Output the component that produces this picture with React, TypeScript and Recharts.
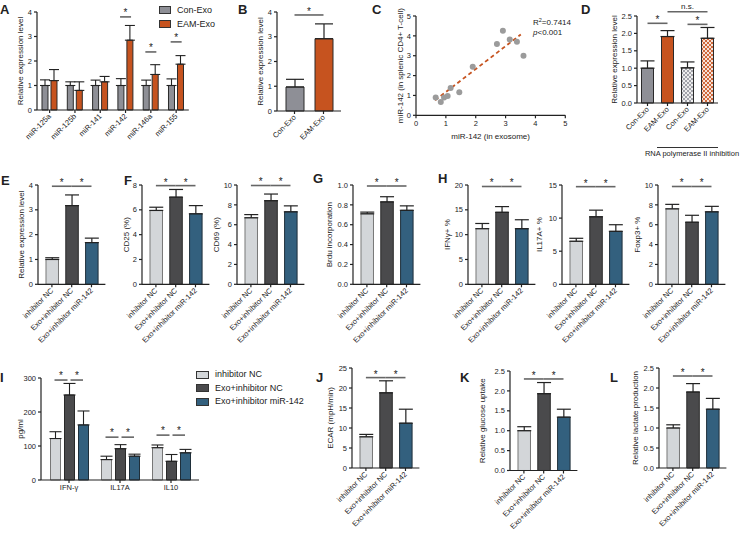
import React from 'react';
import {
  BarChart, ComposedChart, ScatterChart, Bar, Scatter, XAxis, YAxis, Cell,
  ErrorBar, ReferenceLine, Legend,
} from 'recharts';

const FONT = "'Liberation Sans', Arial, Helvetica, sans-serif";
const INK = '#222';
const SIG = '#666';
const C_CON = '#8e8f96';
const C_EAM = '#c6531f';
const C_LIGHT = '#d3d6d9';
const C_DARK = '#4a4a4c';
const C_BLUE = '#33607e';
const AX = { stroke: '#222', strokeWidth: 1.2 };

// ---------- Panel A ----------
const aCats = ['miR-125a', 'miR-125b', 'miR-141', 'miR-142', 'miR-146a', 'miR-155'];
const aCon = [1.0, 1.0, 1.0, 1.0, 1.0, 1.0];
const aConErr = [0.23, 0.15, 0.22, 0.28, 0.22, 0.27];
const aEam = [1.2, 0.8, 1.15, 2.85, 1.45, 1.87];
const aEamErr = [0.45, 0.35, 0.22, 0.6, 0.4, 0.35];
const aSig: (number | null)[] = [null, null, null, 3.8, 2.37, 2.78];
const aSeries = ['Con-Exo', 'EAM-Exo'];

// ---------- Panel B ----------
const bCats = ['Con-Exo', 'EAM-Exo'];
const bVals = [0.97, 2.92];
const bErr = [0.31, 0.6];

// ---------- Panel C ----------
const cX = [0.66, 0.83, 0.94, 1.06, 1.16, 1.45, 1.9, 2.71, 2.91, 3.14, 3.38, 3.6];
const cY = [0.89, 0.67, 0.89, 0.97, 1.38, 1.16, 2.44, 3.59, 4.26, 3.82, 3.7, 3.0];
const cFitX = [0.64, 3.51];
const cFitY = [0.76, 4.07];

// ---------- Panel D ----------
const dCats = ['Con-Exo', 'EAM-Exo', 'Con-Exo', 'EAM-Exo'];
const dVals = [1.0, 1.91, 1.01, 1.86];
const dErr = [0.21, 0.17, 0.17, 0.31];

// ---------- Three-group panels ----------
const grp = ['inhibitor NC', 'Exo+inhibitor NC', 'Exo+inhibitor miR-142'];
const eVals = [1.0, 3.17, 1.68];
const eErr = [0.07, 0.43, 0.18];
const cd25Vals = [5.95, 7.02, 5.68];
const cd25Err = [0.26, 0.62, 0.66];
const cd69Vals = [6.7, 8.42, 7.3];
const cd69Err = [0.32, 0.67, 0.6];
const brduVals = [0.71, 0.83, 0.745];
const brduErr = [0.017, 0.052, 0.045];
const ifnVals = [11.2, 14.5, 11.2];
const ifnErr = [1.05, 1.15, 1.8];
const il17Vals = [6.5, 10.2, 8.0];
const il17Err = [0.45, 1.0, 1.0];
const foxVals = [7.6, 6.25, 7.3];
const foxErr = [0.45, 0.7, 0.55];
const ecarVals = [7.8, 18.8, 11.2];
const ecarErr = [0.6, 3.0, 3.5];
const gluVals = [1.0, 1.93, 1.34];
const gluErr = [0.1, 0.28, 0.2];
const lacVals = [1.0, 1.9, 1.47];
const lacErr = [0.08, 0.21, 0.27];

// ---------- Panel I ----------
const iCats = ['IFN-γ', 'IL17A', 'IL10'];
const iNC = [122, 60, 95];
const iNCErr = [20, 10, 8];
const iExo = [250, 92, 55];
const iExoErr = [34, 12, 20];
const iMiR = [162, 70, 80];
const iMiRErr = [41, 6, 10];
const iSig = [294, 126, 132];

const fills3 = [C_LIGHT, C_DARK, C_BLUE];
const strokes3 = ['#777', '#2a2a2a', '#1f2f3a'];
const f1 = (v: number) => v.toFixed(1);

type Sig = { a: number; b: number; y: number; t: string };

const RotTick = (props: any) => {
  const { x, y, payload, names, fs } = props;
  const label = names ? names[Number(payload.value)] : payload.value;
  return (
    <g transform={`translate(${x},${y}) rotate(-45)`}>
      <text x={0} y={0} dy="0.35em" textAnchor="end" fontSize={fs} fill={INK} fontFamily={FONT}>
        {label}
      </text>
    </g>
  );
};

const yLab = (text: string, x: number, y: number, fs = 8) => () => (
  <text x={x} y={y} transform={`rotate(-90 ${x} ${y})`} textAnchor="middle"
    dominantBaseline="central" fontSize={fs} fill={INK} fontFamily={FONT}>{text}</text>
);

type SBProps = {
  axisX: number; yTop: number; yBot: number; band: number; pad: number;
  names: string[]; vals: number[]; errs: number[]; fills: string[]; strokes?: string[];
  domain: [number, number]; ticks: number[]; fmt?: (v: number) => string;
  barSize: number; capW?: number; sigs: Sig[]; ylabel: string; yOff: number;
  tickFs?: number;
};

function SimpleBars(p: SBProps) {
  const yW = 50, mt = 30, mr = 4, xH = 80;
  const plotW = p.pad * 2 + p.band * p.names.length;
  const plotH = p.yBot - p.yTop;
  const W = yW + plotW + mr, H = mt + plotH + xH;
  const data = p.names.map((n, i) => ({ id: String(i), v: p.vals[i], e: [0, p.errs[i]] }));
  const tfs = p.tickFs ?? 7.5;
  return (
    <div style={{ position: 'absolute', left: p.axisX - yW, top: p.yTop - mt }}>
      <BarChart width={W} height={H} data={data} margin={{ top: mt, right: mr, left: 0, bottom: 0 }}>
        <XAxis dataKey="id" height={xH} interval={0} padding={{ left: p.pad, right: p.pad }}
          axisLine={AX} tickLine={AX} tickSize={3}
          tick={<RotTick names={p.names} fs={tfs} />} />
        <YAxis width={yW} domain={p.domain} ticks={p.ticks} tickFormatter={p.fmt} interval={0}
          axisLine={AX} tickLine={AX} tickSize={3}
          tick={{ fontSize: tfs, fill: INK, fontFamily: FONT }}
          label={yLab(p.ylabel, yW - p.yOff, mt + plotH / 2)} />
        <Bar dataKey="v" barSize={p.barSize} isAnimationActive={false}>
          {data.map((d, i) => (
            <Cell key={i} fill={p.fills[i]} stroke={p.strokes ? p.strokes[i] : '#2a2a2a'} strokeWidth={1} />
          ))}
          <ErrorBar dataKey="e" width={p.capW ?? 7} stroke={INK} strokeWidth={1.2} direction="y" />
        </Bar>
        {p.sigs.map((s, k) => (
          <ReferenceLine key={k} ifOverflow="visible" stroke={SIG} strokeWidth={1.6}
            segment={[{ x: String(s.a), y: s.y }, { x: String(s.b), y: s.y }]}
            label={{ value: s.t, position: 'top', offset: s.t === '*' ? 0 : 3, fontSize: s.t === '*' ? 10 : 8, fill: INK, fontFamily: FONT }} />
        ))}
      </BarChart>
    </div>
  );
}

const makeLegend = (order: string[], fs: number, sw: number, sh: number, rowH: number, gap: number) =>
  (props: any) => {
    const items = [...(props.payload || [])]
      .filter((e: any) => order.includes(e.value))
      .sort((a: any, b: any) => order.indexOf(a.value) - order.indexOf(b.value));
    return (
      <div style={{ fontFamily: FONT, fontSize: fs, color: INK, lineHeight: `${rowH}px` }}>
        {items.map((e: any, i: number) => (
          <div key={i} style={{ display: 'flex', alignItems: 'center', height: rowH, whiteSpace: 'nowrap' }}>
            <span style={{ display: 'inline-block', width: sw, height: sh, background: e.color, border: '1px solid #333', marginRight: gap }} />
            {e.value}
          </div>
        ))}
      </div>
    );
  };

const SigA = (props: any) => {
  const { cx, cy, payload } = props;
  if (payload == null || payload.sig == null || cx == null || cy == null) return <g />;
  return (
    <g>
      <line x1={cx - 5.5} x2={cx + 5.5} y1={cy} y2={cy} stroke={SIG} strokeWidth={1.6} />
      <text x={cx} y={cy - 1} textAnchor="middle" fontSize={10} fill={INK} fontFamily={FONT}>*</text>
    </g>
  );
};

const SigPair = (props: any) => {
  const { cx, cy, payload } = props;
  if (payload == null || payload.sig == null || cx == null || cy == null) return <g />;
  return (
    <g>
      <line x1={cx - 14.5} x2={cx - 1.5} y1={cy} y2={cy} stroke={SIG} strokeWidth={1.6} />
      <line x1={cx + 1.5} x2={cx + 14} y1={cy} y2={cy} stroke={SIG} strokeWidth={1.6} />
      <text x={cx - 8} y={cy - 1} textAnchor="middle" fontSize={10} fill={INK} fontFamily={FONT}>*</text>
      <text x={cx + 8} y={cy - 1} textAnchor="middle" fontSize={10} fill={INK} fontFamily={FONT}>*</text>
    </g>
  );
};

function PanelA() {
  const axisX = 37, yTop = 12, yBot = 110, band = 25.3;
  const yW = 50, mt = 12, mr = 30, xH = 40;
  const plotW = band * aCats.length, plotH = yBot - yTop;
  const data = aCats.map((n, i) => ({
    name: n, con: aCon[i], conE: [0, aConErr[i]], eam: aEam[i], eamE: [0, aEamErr[i]], sig: aSig[i],
  }));
  const left = axisX - yW, top = yTop - mt;
  return (
    <div style={{ position: 'absolute', left, top }}>
      <ComposedChart width={yW + plotW + mr} height={mt + plotH + xH} data={data}
        margin={{ top: mt, right: mr, left: 0, bottom: 0 }} barSize={6} barGap={3}>
        <XAxis dataKey="name" height={xH} interval={0} axisLine={AX} tickLine={AX} tickSize={3}
          tick={<RotTick fs={7.5} />} />
        <YAxis width={yW} domain={[0, 4]} ticks={[0, 1, 2, 3, 4]} interval={0}
          axisLine={AX} tickLine={AX} tickSize={3} tick={{ fontSize: 7.5, fill: INK, fontFamily: FONT }}
          label={yLab('Relative expression level', yW - 16, mt + plotH / 2)} />
        <Bar dataKey="con" name="Con-Exo" fill={C_CON} stroke="#2a2a2a" strokeWidth={1} isAnimationActive={false}>
          <ErrorBar dataKey="conE" width={5} stroke={INK} strokeWidth={1.1} direction="y" />
        </Bar>
        <Bar dataKey="eam" name="EAM-Exo" fill={C_EAM} stroke="#2a2a2a" strokeWidth={1} isAnimationActive={false}>
          <ErrorBar dataKey="eamE" width={5} stroke={INK} strokeWidth={1.1} direction="y" />
        </Bar>
        <Scatter dataKey="sig" shape={SigA} legendType="none" isAnimationActive={false} />
        <Legend layout="vertical" align="center" verticalAlign="middle"
          wrapperStyle={{ left: 159 - left, top: 3 - top, width: 60 }}
          content={makeLegend(aSeries, 9, 10, 6, 14, 6)} />
      </ComposedChart>
    </div>
  );
}

function PanelC() {
  const axisX = 416, yTop = 15.7, yBot = 115, xRight = 565.3;
  const yW = 50, mt = 10, mr = 10, xH = 30;
  const plotW = xRight - axisX, plotH = yBot - yTop;
  const data = cX.map((x, i) => ({ x, y: cY[i] }));
  return (
    <div style={{ position: 'absolute', left: axisX - yW, top: yTop - mt }}>
      <ScatterChart width={yW + plotW + mr} height={mt + plotH + xH} margin={{ top: mt, right: mr, left: 0, bottom: 0 }}>
        <XAxis type="number" dataKey="x" domain={[0, 5]} ticks={[0, 1, 2, 3, 4, 5]} interval={0}
          height={xH} axisLine={AX} tickLine={AX} tickSize={3}
          tick={{ fontSize: 7.5, fill: INK, fontFamily: FONT }}
          label={() => (
            <text x={yW + plotW / 2} y={mt + plotH + 24} textAnchor="middle" fontSize={8} fill={INK} fontFamily={FONT}>
              miR-142 (in exosome)
            </text>
          )} />
        <YAxis type="number" dataKey="y" width={yW} domain={[0, 5]} ticks={[0, 1, 2, 3, 4, 5]} interval={0}
          axisLine={AX} tickLine={AX} tickSize={3}
          tick={{ fontSize: 7.5, fill: INK, fontFamily: FONT }}
          label={yLab('miR-142 (in splenic CD4+ T-cell)', yW - 15, mt + plotH / 2)} />
        <ReferenceLine ifOverflow="visible" stroke={C_EAM} strokeWidth={1.8} strokeDasharray="4 3"
          segment={[{ x: cFitX[0], y: cFitY[0] }, { x: cFitX[1], y: cFitY[1] }]} />
        <Scatter data={data} isAnimationActive={false}
          shape={(s: any) => <circle cx={s.cx} cy={s.cy} r={3} fill="#9b9b9b" />} />
      </ScatterChart>
    </div>
  );
}

function PanelI() {
  const axisX = 41, yTop = 378, yBot = 480, band = 51, pad = 2.5;
  const yW = 50, mt = 12, mr = 110, xH = 30;
  const plotW = pad * 2 + band * iCats.length, plotH = yBot - yTop;
  const data = iCats.map((n, i) => ({
    name: n,
    nc: iNC[i], ncE: [0, iNCErr[i]],
    exo: iExo[i], exoE: [0, iExoErr[i]],
    mir: iMiR[i], mirE: [0, iMiRErr[i]],
    sig: iSig[i],
  }));
  const left = axisX - yW, top = yTop - mt;
  return (
    <div style={{ position: 'absolute', left, top }}>
      <ComposedChart width={yW + plotW + mr} height={mt + plotH + xH} data={data}
        margin={{ top: mt, right: mr, left: 0, bottom: 0 }} barSize={10} barGap={4}>
        <XAxis dataKey="name" height={xH} interval={0} padding={{ left: pad, right: pad }}
          axisLine={AX} tickLine={AX} tickSize={3} tick={{ fontSize: 7.5, fill: INK, fontFamily: FONT }} />
        <YAxis width={yW} domain={[0, 300]} ticks={[0, 100, 200, 300]} interval={0}
          axisLine={AX} tickLine={AX} tickSize={3} tick={{ fontSize: 7.5, fill: INK, fontFamily: FONT }}
          label={yLab('pg/ml', yW - 20.5, mt + plotH / 2)} />
        <Bar dataKey="nc" name={grp[0]} fill={C_LIGHT} stroke="#777" strokeWidth={1} isAnimationActive={false}>
          <ErrorBar dataKey="ncE" width={6} stroke={INK} strokeWidth={1.1} direction="y" />
        </Bar>
        <Bar dataKey="exo" name={grp[1]} fill={C_DARK} stroke="#2a2a2a" strokeWidth={1} isAnimationActive={false}>
          <ErrorBar dataKey="exoE" width={6} stroke={INK} strokeWidth={1.1} direction="y" />
        </Bar>
        <Bar dataKey="mir" name={grp[2]} fill={C_BLUE} stroke="#1f2f3a" strokeWidth={1} isAnimationActive={false}>
          <ErrorBar dataKey="mirE" width={6} stroke={INK} strokeWidth={1.1} direction="y" />
        </Bar>
        <Scatter dataKey="sig" shape={SigPair} legendType="none" isAnimationActive={false} />
        <Legend layout="vertical" align="center" verticalAlign="middle"
          wrapperStyle={{ left: 196 - left, top: 368 - top, width: 110 }}
          content={makeLegend(grp, 9, 11, 6, 13.5, 6)} />
      </ComposedChart>
    </div>
  );
}

const T = (props: any) => <text fontFamily={FONT} fill={INK} {...props} />;

export default function App() {
  const r2Top = 184.7, r2Bot = 284;
  const common3 = { band: 19.8, pad: 4, names: grp, fills: fills3, strokes: strokes3, barSize: 12.5 };
  return (
    <div style={{ position: 'absolute', left: 0, top: 0, width: 745, height: 537, background: '#fff', overflow: 'hidden', fontFamily: FONT }}>
      <svg width={0} height={0} style={{ position: 'absolute' }}>
        <defs>
          <pattern id="chkGray" width="4" height="4" patternUnits="userSpaceOnUse">
            <rect width="4" height="4" fill="#eeeeee" />
            <rect width="2" height="2" fill="#a2a3aa" />
            <rect x="2" y="2" width="2" height="2" fill="#a2a3aa" />
          </pattern>
          <pattern id="chkOrange" width="4" height="4" patternUnits="userSpaceOnUse">
            <rect width="4" height="4" fill="#f6e2d8" />
            <rect width="2" height="2" fill="#d0693b" />
            <rect x="2" y="2" width="2" height="2" fill="#d0693b" />
          </pattern>
        </defs>
      </svg>

      <PanelA />
      <SimpleBars axisX={277} yTop={12} yBot={111} band={29} pad={3} names={bCats} vals={bVals} errs={bErr}
        fills={[C_CON, C_EAM]} barSize={18} capW={9} domain={[0, 4]} ticks={[0, 1, 2, 3, 4]}
        sigs={[{ a: 0, b: 1, y: 3.88, t: '*' }]} ylabel="Relative expression level" yOff={17} />
      <PanelC />
      <SimpleBars axisX={636.5} yTop={16} yBot={103} band={20} pad={0.5} names={dCats} vals={dVals} errs={dErr}
        fills={[C_CON, C_EAM, 'url(#chkGray)', 'url(#chkOrange)']} barSize={12} domain={[0, 2.5]}
        ticks={[0, 0.5, 1, 1.5, 2, 2.5]} fmt={f1}
        sigs={[{ a: 0, b: 1, y: 2.29, t: '*' }, { a: 2, b: 3, y: 2.26, t: '*' }, { a: 1, b: 3, y: 2.62, t: 'n.s.' }]}
        ylabel="Relative expression level" yOff={23} />

      <SimpleBars axisX={38} yTop={r2Top} yBot={r2Bot} {...common3} vals={eVals} errs={eErr}
        domain={[0, 4]} ticks={[0, 1, 2, 3, 4]}
        sigs={[{ a: 0, b: 1, y: 3.95, t: '*' }, { a: 1, b: 2, y: 3.95, t: '*' }]}
        ylabel="Relative expression level" yOff={16} />
      <SimpleBars axisX={141.7} yTop={r2Top} yBot={r2Bot} {...common3} vals={cd25Vals} errs={cd25Err}
        domain={[0, 8]} ticks={[0, 2, 4, 6, 8]}
        sigs={[{ a: 0, b: 1, y: 7.95, t: '*' }, { a: 1, b: 2, y: 7.95, t: '*' }]}
        ylabel="CD25 (%)" yOff={15} />
      <SimpleBars axisX={236.7} yTop={r2Top} yBot={r2Bot} {...common3} vals={cd69Vals} errs={cd69Err}
        domain={[0, 10]} ticks={[0, 2, 4, 6, 8, 10]}
        sigs={[{ a: 0, b: 1, y: 9.95, t: '*' }, { a: 1, b: 2, y: 9.95, t: '*' }]}
        ylabel="CD69 (%)" yOff={20} />
      <SimpleBars axisX={352.7} yTop={r2Top} yBot={r2Bot} {...common3} vals={brduVals} errs={brduErr}
        domain={[0, 1]} ticks={[0, 0.2, 0.4, 0.6, 0.8, 1]} fmt={f1}
        sigs={[{ a: 0, b: 1, y: 0.99, t: '*' }, { a: 1, b: 2, y: 0.99, t: '*' }]}
        ylabel="Brdu incorporation" yOff={23} />
      <SimpleBars axisX={467.7} yTop={r2Top} yBot={r2Bot} {...common3} vals={ifnVals} errs={ifnErr}
        domain={[0, 20]} ticks={[0, 5, 10, 15, 20]}
        sigs={[{ a: 0, b: 1, y: 19.7, t: '*' }, { a: 1, b: 2, y: 19.7, t: '*' }]}
        ylabel="IFNγ+ %" yOff={20} />
      <SimpleBars axisX={562.3} yTop={r2Top} yBot={r2Bot} {...common3} vals={il17Vals} errs={il17Err}
        domain={[0, 15]} ticks={[0, 5, 10, 15]}
        sigs={[{ a: 0, b: 1, y: 14.75, t: '*' }, { a: 1, b: 2, y: 14.75, t: '*' }]}
        ylabel="IL17A+ %" yOff={22} />
      <SimpleBars axisX={658.3} yTop={r2Top} yBot={r2Bot} {...common3} vals={foxVals} errs={foxErr}
        domain={[0, 10]} ticks={[0, 2, 4, 6, 8, 10]}
        sigs={[{ a: 0, b: 1, y: 9.85, t: '*' }, { a: 1, b: 2, y: 9.85, t: '*' }]}
        ylabel="Foxp3+ %" yOff={20} />

      <PanelI />
      <SimpleBars axisX={352} yTop={368} yBot={468} {...common3} vals={ecarVals} errs={ecarErr}
        domain={[0, 25]} ticks={[0, 5, 10, 15, 20, 25]}
        sigs={[{ a: 0, b: 1, y: 22.6, t: '*' }, { a: 1, b: 2, y: 22.6, t: '*' }]}
        ylabel="ECAR (mpH/min)" yOff={21} />
      <SimpleBars axisX={510} yTop={371} yBot={470.5} {...common3} vals={gluVals} errs={gluErr}
        domain={[0, 2.5]} ticks={[0, 0.5, 1, 1.5, 2, 2.5]} fmt={f1}
        sigs={[{ a: 0, b: 1, y: 2.3, t: '*' }, { a: 1, b: 2, y: 2.3, t: '*' }]}
        ylabel="Relative glucose uptake" yOff={27} />
      <SimpleBars axisX={659} yTop={368} yBot={468} {...common3} vals={lacVals} errs={lacErr}
        domain={[0, 2.5]} ticks={[0, 0.5, 1, 1.5, 2, 2.5]} fmt={f1}
        sigs={[{ a: 0, b: 1, y: 2.3, t: '*' }, { a: 1, b: 2, y: 2.3, t: '*' }]}
        ylabel="Relative lactate production" yOff={23} />

      <svg width={745} height={537} style={{ position: 'absolute', left: 0, top: 0, pointerEvents: 'none' }}>
        <g fontWeight="bold" fontSize={13}>
          <T x={0} y={14}>A</T>
          <T x={238} y={14}>B</T>
          <T x={372} y={14}>C</T>
          <T x={581} y={14}>D</T>
          <T x={1} y={185}>E</T>
          <T x={124} y={185}>F</T>
          <T x={313} y={183}>G</T>
          <T x={438} y={183}>H</T>
          <T x={0} y={382}>I</T>
          <T x={316} y={382}>J</T>
          <T x={460} y={382}>K</T>
          <T x={610} y={382}>L</T>
        </g>
        <T x={533} y={25} fontSize={8}>R<tspan dy={-3} fontSize={5.5}>2</tspan><tspan dy={3}>=0.7414</tspan></T>
        <T x={533} y={35} fontSize={8}><tspan fontStyle="italic">p</tspan>&lt;0.001</T>
        <line x1={657} x2={718} y1={147.5} y2={147.5} stroke="#333" strokeWidth={1} />
        <T x={692} y={156} fontSize={7.5} textAnchor="middle">RNA polymerase II inhibition</T>
      </svg>
    </div>
  );
}
